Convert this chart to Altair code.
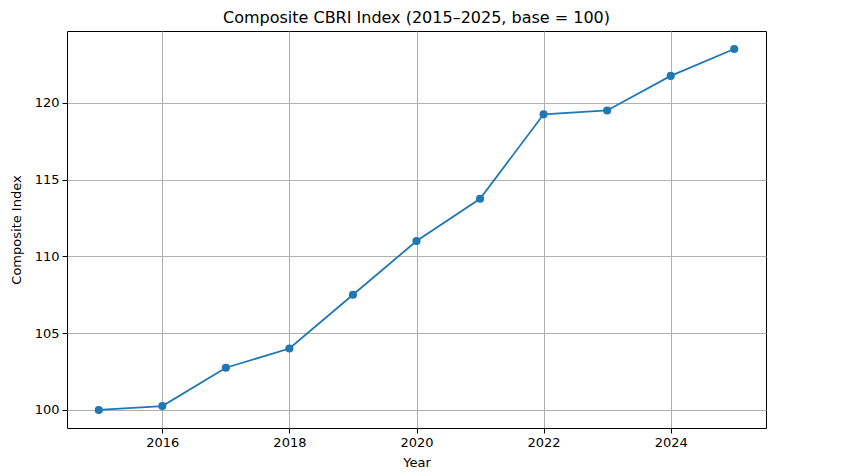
import altair as alt
import pandas as pd

years = [2015, 2016, 2017, 2018, 2019, 2020, 2021, 2022, 2023, 2024, 2025]
index_values = [100.0, 100.25, 102.75, 104.0, 107.5, 111.0, 113.75, 119.25, 119.5, 121.75, 123.5]
x_ticks = [2016, 2018, 2020, 2022, 2024]
y_ticks = [100, 105, 110, 115, 120]

df = pd.DataFrame({"Year": years, "Composite Index": index_values})

font = "DejaVu Sans"
color = "#1f77b4"

x = alt.X("Year:Q", scale=alt.Scale(domain=[2014.5, 2025.5], nice=False, zero=False),
          axis=alt.Axis(values=x_ticks, format="d", title="Year"))
y = alt.Y("Composite Index:Q", scale=alt.Scale(domain=[98.825, 124.675], nice=False, zero=False),
          axis=alt.Axis(values=y_ticks, format="d", title="Composite Index"))

line = alt.Chart(df).mark_line(color=color, strokeWidth=1.8).encode(x=x, y=y)
pts = alt.Chart(df).mark_point(filled=True, color=color, size=66, opacity=1).encode(x=x, y=y)

chart = (line + pts).properties(
    width=699, height=397,
    title=alt.TitleParams("Composite CBRI Index (2015–2025, base = 100)", font=font,
                          fontSize=16, fontWeight="normal", color="black", offset=5),
    autosize=alt.AutoSizeParams(type="none"),
    padding={"left": 59, "top": 23, "right": 85, "bottom": 40},
).configure_view(
    stroke="black", strokeWidth=1
).configure_axis(
    labelFont=font, titleFont=font, labelFontSize=13, titleFontSize=13,
    labelColor="black", titleColor="black", titleFontWeight="normal",
    grid=True, gridColor="#b0b0b0", gridWidth=1,
    domain=False, tickColor="black", tickSize=5, tickWidth=1, labelPadding=3,
).configure_axisX(titlePadding=7).configure_axisY(titlePadding=11)

chart.save("out.html", embed_options={"renderer": "svg", "actions": False})
